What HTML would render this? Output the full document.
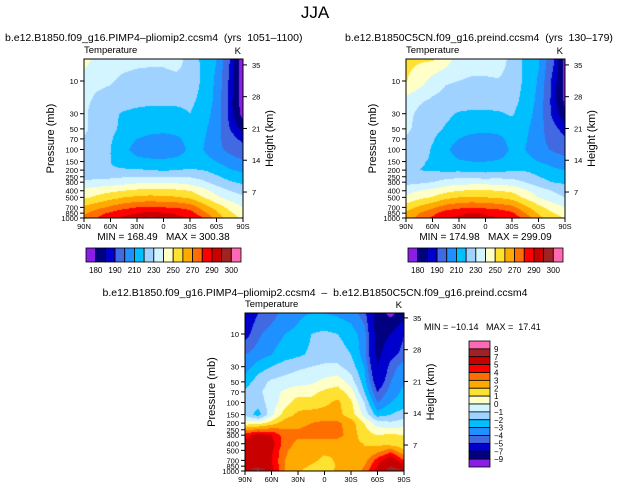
<!DOCTYPE html>
<html><head><meta charset="utf-8">
<style>
body{margin:0;background:#fff;width:631px;height:491px;overflow:hidden;position:relative;font-family:"Liberation Sans",sans-serif}
canvas{position:absolute}
svg{position:absolute;left:0;top:0}
text{font-family:"Liberation Sans",sans-serif;fill:#000;white-space:pre}
</style></head><body>
<canvas id="c1" style="left:84px;top:59px" width="159" height="159"></canvas>
<canvas id="c2" style="left:406px;top:59px" width="159" height="159"></canvas>
<canvas id="c3" style="left:245px;top:313px" width="159" height="158"></canvas>
<svg id="s" width="631" height="491"></svg>
<script>
// ---- data ----
const lats = ["90N","75N","60N","45N","30N","15N","0","15S","30S","45S","60S","75S","90S"];
const levels = [5,10,20,30,50,70,100,150,200,300,400,500,700,850,1000];
const absLevels = [180,185,190,200,210,220,230,240,250,260,270,280,290,295,300];
const absLabels = ["180","190","210","230","250","270","290","300"];
const diffLevels = [-9,-7,-5,-4,-3,-2,-1,0,1,2,3,4,5,7,9];
const diffLabels = ["9","7","5","4","3","2","1","0","-1","-2","-3","-4","-5","-7","-9"];
const colors = ["#8a1ee6","#000080","#0000cd","#4169e1","#1e90ff","#00bfff","#a0d2ff","#d2f5ff","#ffffc8","#ffe132","#ffaa00","#ff6e00","#ff0000","#c80000","#a02323","#ff69b4"];
// rows = levels (top->bottom), cols = lats
const tPimp = [
[245,235,234,233,232,232,232,235,225,218,210,190,175],
[233,232,231,228,227,226,226,226,226,218,208,188,176],
[232,228,226,224,223,222,222,222,222,217,207,187,177],
[232,225,222,219,217,216,216,217,220,215,206,187,178],
[232,226,222,218,216,214,213,214,216,212,205,190,183],
[229,225,221,215,210,207,206,208,214,211,204,193,188],
[228,225,220,213,206,204,203,205,212,210,203,197,193],
[224,222,220,216,213,212,212,213,215,214,210,205,201],
[221,221,221,221,221,220,219,220,221,220,216,211,208],
[232,233,234,236,238,238,238,238,236,232,226,221,218],
[243,246,248,250,252,253,253,252,250,244,236,230,226],
[248,252,256,260,262,263,262,261,258,250,242,236,232],
[262,267,272,277,280,281,280,279,276,266,256,247,240],
[268,276,282,287,290,293,291,289,285,273,262,252,245],
[272,280,288,292,294,296,294,292,290,280,266,255,248]];
const tPre = [
[252,251,250.5,245,234,233,233,236,226,218,211,193,177],
[250.5,245,236,231,230,229,229,229,226,218,209,189,178],
[236,231,228,226,225,224,224,224,223,217,207,188,179],
[233,228,225,222,219,218,218,219,221,215,206,189,181],
[232,227,223,219,216,214,213,214,216,212,205,193,187],
[229,225,221,215,210,206,205,207,214,211,204,196,191],
[228,225,219,212,205,203,202,204,212,210,204,199,195],
[224,221,219,215,211,210,210,211,214,213,210,207,204],
[220,220,219,218,218,217,216,217,219,219,216,212,210],
[227,228,230,234,236,236,236,236,234,230,224,220,218],
[236,240,243,247,250,251,251,250,248,242,235,230,226],
[242,247,251,257,260,261,260,259,256,248,240,234,230],
[255,262,268,275,278,279,278,276,273,263,253,246,240],
[262,270,277,285,288,291,289,287,282,270,259,251,246],
[264,273,282,289,292,294,292,290,287,277,263,255,249]];
const tDiff = [
[-6,-5,-4.5,-3.5,-3.2,-3,-3,-3.2,-3.5,-4.5,-8,-9.5,-8],
[-5.5,-4.2,-3.5,-3,-2.8,-2,-1.8,-2,-2.5,-3.5,-8,-7,-5],
[-4,-3.5,-3,-2.5,-2.2,-1.8,-1.5,-1.5,-2,-3.5,-7.5,-5.5,-4.5],
[-3.5,-2.5,-2,-1.5,-1.2,-1,-0.8,-0.8,-1.5,-3,-7,-4.5,-3.5],
[-2.5,-1.5,-0.8,-0.6,-0.4,-0.2,0.3,0.6,-0.5,-2.5,-6,-4,-3],
[-1.8,-1.2,-0.5,0.2,0.6,0.7,1.2,1.5,0.5,-2,-5,-3.5,-2.8],
[-1.3,-1.5,-0.5,0.5,1.5,1.3,1.8,2.2,1.2,-1,-4,-3,-2.5],
[-1.2,-2.5,-0.3,1.5,2.2,2.5,2.4,2.3,1.5,-0.3,-2.5,-2,-1.5],
[0.5,0.6,1.5,2.5,2.8,3,3.2,3.2,2.5,1,-0.5,-0.8,-0.5],
[4.5,5.5,5,3.5,3.2,3.3,3.4,3.4,2.5,1.5,1,1.2,1],
[5.5,6,5.5,3.5,2.7,2.6,2.4,2.4,2.2,2,1.8,1.5,1.3],
[5.5,5.8,5.2,3.2,2.5,2.3,2.2,2.1,2.1,2,2.5,3.5,2],
[5.5,6,5,3,2.4,2.2,1.8,2.1,2.2,2.5,4.5,6,4],
[5.8,6.5,5.2,3,2.4,1.9,1.6,2.1,2.3,3,5,7,6],
[6,9.5,5.5,3,2.3,1.3,1.5,2.2,2.4,3.2,5.5,8,7]];
const pTicks = [10,30,50,70,100,150,200,250,300,400,500,700,850,1000];
const zTicks = [7,14,21,28,35];
const latTicks = ["90N","60N","30N","0","30S","60S","90S"];

// ---- scales ----
const PPD = 68.5;
function yOfP(p, bottom){ return bottom - PPD*Math.log10(1000/p); }
function yOfZ(z, bottom){ return bottom + 5.8 - 4.54*z; }
function rgb(h){return [parseInt(h.substr(1,2),16),parseInt(h.substr(3,2),16),parseInt(h.substr(5,2),16)];}
const rgbs = colors.map(rgb);
const logL = levels.map(p=>Math.log10(p));
function sample(grid, fx, lp){
  const n=lats.length-1; let cx=fx*n; let i=Math.min(n-1,Math.floor(cx)); let tx=cx-i;
  let j=0; if(lp<=logL[0]) {j=0;} else { while(j<logL.length-2 && lp>logL[j+1]) j++; }
  let ty=(lp-logL[j])/(logL[j+1]-logL[j]); ty=Math.max(0,Math.min(1,ty));
  const a=grid[j][i],b=grid[j][i+1],c=grid[j+1][i],d=grid[j+1][i+1];
  return (a*(1-tx)+b*tx)*(1-ty)+(c*(1-tx)+d*tx)*ty;
}
function drawField(id, grid, lev){
  const cv=document.getElementById(id), ctx=cv.getContext('2d');
  const W=cv.width,H=cv.height, img=ctx.createImageData(W,H);
  for(let y=0;y<H;y++){
    const lp=Math.log10(1000)-(H-0.5-y)/PPD;
    for(let x=0;x<W;x++){
      const v=sample(grid,(x+0.5)/W,lp);
      let k=0; while(k<lev.length && v>=lev[k]) k++;
      const c=rgbs[k], o=(y*W+x)*4;
      img.data[o]=c[0];img.data[o+1]=c[1];img.data[o+2]=c[2];img.data[o+3]=255;
    }
  }
  ctx.putImageData(img,0,0);
}
drawField('c1',tPimp,absLevels);
drawField('c2',tPre,absLevels);
drawField('c3',tDiff,diffLevels);

// ---- svg ----
const S=document.getElementById('s'), NS='http://www.w3.org/2000/svg';
function el(tag,attrs,txt){const e=document.createElementNS(NS,tag);for(const k in attrs)e.setAttribute(k,attrs[k]);if(txt!==undefined)e.textContent=txt;S.appendChild(e);return e;}
function txt(x,y,s,size,anchor,name){const e=el('text',{x:x,y:y,'font-size':size,'text-anchor':anchor||'start'},s);

return e;}
txt(315,18,"JJA",17,'middle','main-title').setAttribute('font-weight','300');

function axes(left,top,w,h,pre){
  const bottom=top+h;
  const r=el('rect',{x:left,y:top,width:w,height:h,fill:'none',stroke:'#000','stroke-width':1});
  
  
  pTicks.forEach(p=>{const y=yOfP(p,bottom);
    el('line',{x1:left-4,x2:left,y1:y,y2:y,stroke:'#000'});
    txt(left-6,y+3,String(p),7.5,'end',pre+'-pressure-tick');});
  zTicks.forEach(z=>{const y=yOfZ(z,bottom);
    el('line',{x1:left+w,x2:left+w+4,y1:y,y2:y,stroke:'#000'});
    txt(left+w+9,y+3,String(z),7.5,'start',pre+'-height-tick');});
  latTicks.forEach((l,i)=>{const x=left+i*w/(latTicks.length-1);
    el('line',{x1:x,x2:x,y1:bottom,y2:bottom+4,stroke:'#000'});
    txt(x,bottom+11,l,7.5,'middle',pre+'-lat-tick');});
  const py=txt(0,0,"Pressure (mb)",11,'middle',pre+'-y-axis-title');
  py.setAttribute('transform',`translate(${left-30},${top+h/2}) rotate(-90)`);
  const hy=txt(0,0,"Height (km)",11,'middle',pre+'-y2-axis-title');
  hy.setAttribute('transform',`translate(${left+w+30},${top+h/2}) rotate(-90)`);
}
function panel(left,top,w,h,title,tx,minmax,pre){
  txt(tx,41,title,10.5,'start',pre+'-title');
  txt(left,53,"Temperature",9.5,'start',pre+'-variable-label');
  txt(left+w-2,54,"K",9.5,'end',pre+'-units-label');
  axes(left,top,w,h,pre);
  txt(left+w/2,top+h+22,minmax,10,'middle',pre+'-min-max');
}
panel(84,59,159,159,"b.e12.B1850.f09_g16.PIMP4\u2013pliomip2.ccsm4  (yrs  1051\u20131100)",5,"MIN = 168.49   MAX = 300.38",'top-left');
panel(406,59,159,159,"b.e12.B1850C5CN.f09_g16.preind.ccsm4  (yrs  130\u2013179)",345,"MIN = 174.98   MAX = 299.09",'top-right');
// bottom panel
txt(315,296,"b.e12.B1850.f09_g16.PIMP4\u2013pliomip2.ccsm4  \u2013  b.e12.B1850C5CN.f09_g16.preind.ccsm4",10.5,'middle','bottom-title');
txt(245,307,"Temperature",9.5,'start','bottom-variable-label');
txt(402,308,"K",9.5,'end','bottom-units-label');
axes(245,313,159,158,'bottom');
txt(424,330,"MIN = \u221210.14   MAX =  17.41",9,'start','bottom-min-max');
// horizontal colorbars
function hbar(x0,y0,w,h,name){
  const bw=w/colors.length;
  colors.forEach((c,i)=>{const r=el('rect',{x:x0+i*bw,y:y0,width:bw,height:h,fill:c,stroke:'#000','stroke-width':0.8});
    
    });
  absLabels.forEach((l,k)=>{const i=1+2*k;txt(x0+i*bw,y0+h+11,l,8,'middle',name+'-label');});
}
hbar(86,248,155,14,'top-left-colorbar');
hbar(408,248,155,14,'top-right-colorbar');
// vertical colorbar
(function(){const x0=469,y0=341,w=21,h=126,bh=h/colors.length;
  colors.slice().reverse().forEach((c,i)=>{const r=el('rect',{x:x0,y:y0+i*bh,width:w,height:bh,fill:c,stroke:'#000','stroke-width':0.8});
    
    });
  diffLabels.forEach((l,i)=>{txt(x0+w+4,y0+(i+1)*bh+3,l.replace('-','\u2212'),8,'start','bottom-colorbar-label');});
})();
</script>
</body></html>
